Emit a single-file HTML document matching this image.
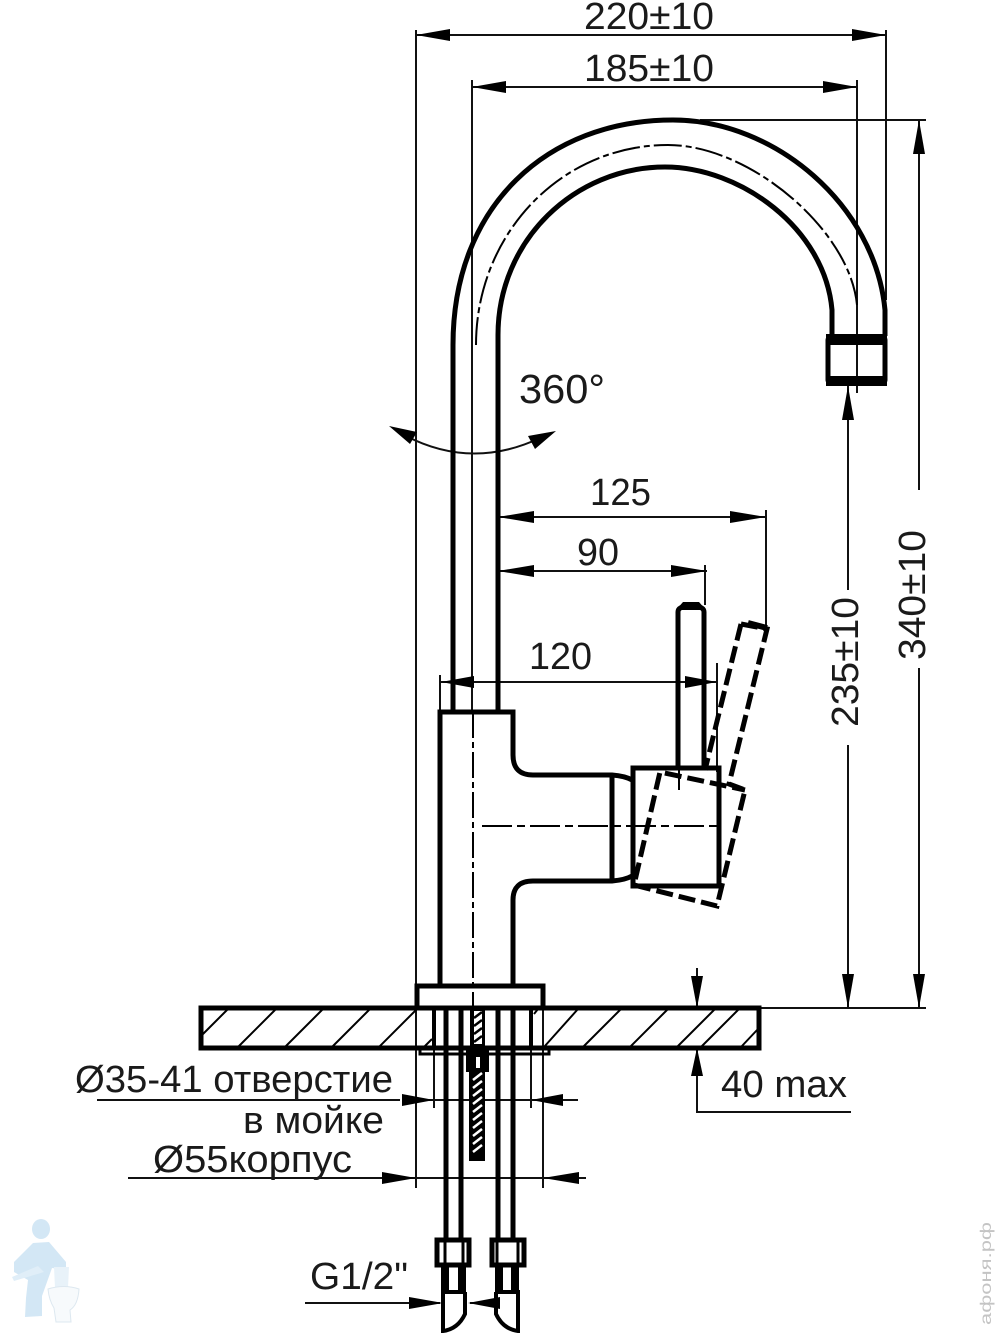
<!DOCTYPE html>
<html><head><meta charset="utf-8"><style>
html,body{margin:0;padding:0;background:#fff}
svg{display:block}
text{font-family:"Liberation Sans","DejaVu Sans",sans-serif;fill:#1a1a1a;font-size:38px}
</style></head><body>
<svg width="1000" height="1333" viewBox="0 0 1000 1333" xmlns="http://www.w3.org/2000/svg">
<rect width="1000" height="1333" fill="#fff"/>

<!-- logo -->
<g fill="#d3e7f5">
<ellipse cx="41" cy="1229" rx="9" ry="10"/>
<path d="M33 1243 L49 1242 L66 1262 L66 1270 L52 1268 L47 1282 L42 1296 L42 1316 L25 1317 L26 1298 L28 1280 L14 1272 L14 1262Z"/>
<path d="M12 1277 L38 1266 L44 1272 L14 1281Z" fill="#e0eef8"/>
<path d="M54 1267 L69 1267 L68 1288 L55 1288Z" fill="#e8f2f9"/>
</g>
<path d="M48 1289 Q64 1284 79 1289 Q78 1305 70 1310 L71 1322 L56 1322 L54 1308 Q49 1300 48 1289Z" fill="#f7fafc" stroke="#dde8f0" stroke-width="1"/>

<!-- watermark -->
<text transform="translate(991,1325) rotate(-90)" style="font-size:16px;fill:#c4c4c4" textLength="103" lengthAdjust="spacingAndGlyphs">афоня.рф</text>

<!-- thin lines -->
<g stroke="#111" stroke-width="2" fill="none">
<path d="M416 30V1188"/>
<path d="M886 30V300"/>
<path d="M472 80V712"/>
<path d="M857 80V393"/>
<path d="M416 35H886"/>
<path d="M472 87H857"/>
<path d="M700 120H926"/>
<path d="M919 120V490M919 668V1008"/>
<path d="M848 385V590M848 745V1008"/>
<path d="M760 1008H926"/>
<path d="M498 517H766M766 510V625"/>
<path d="M498 571H707M705 565V605"/>
<path d="M440 682H717M440 675V712M717 663V772"/>
<path d="M417 1100H578" />
<path d="M97 1100H400"/>
<path d="M128 1178H415"/>
<path d="M416 1178H586"/>
<path d="M305 1303H440"/>
<path d="M470 1303H500"/>
<path d="M697 968V1008M697 1048V1112H851"/>
<path d="M434 1048V1108M531 1048V1108M543 1008V1188"/>
<path d="M406 436Q472 470 540 438"/>
</g>

<!-- arrowheads -->
<g fill="#000">
<path d="M416 35l34 -6v12z"/><path d="M886 35l-34 -6v12z"/>
<path d="M472 87l34 -6v12z"/><path d="M857 87l-34 -6v12z"/>
<path d="M919 120l-6 34h12z"/><path d="M919 1008l-6 -34h12z"/>
<path d="M848 386l-6 34h12z"/><path d="M848 1008l-6 -34h12z"/>
<path d="M498 517l36 -6v12z"/><path d="M766 517l-36 -6v12z"/>
<path d="M498 571l36 -6v12z"/><path d="M707 571l-36 -6v12z"/>
<path d="M441 682l33 -6v12z"/><path d="M717 682l-32 -6v12z"/>
<path d="M697 1008l-6 -32h12z"/><path d="M697 1048l-6 28h12z"/>
<path d="M434 1100l-32 -6v12z"/><path d="M531 1100l32 -6v12z"/>
<path d="M416 1178l-34 -6v12z"/><path d="M543 1178l36 -6v12z"/>
<path d="M443 1303l-34 -6v12z"/><path d="M468 1303l32 -6v12z"/>
<path d="M389 426l28 6l-7 12z"/><path d="M556 431l-28 5l7 13z"/>
</g>

<!-- spout -->
<g fill="none" stroke="#000" stroke-width="5">
<path d="M453 712V345C453 205 548 120 673 120C775 120 875 205 885 310V336"/>
<path d="M498 712V335C498 240 575 167 665 167C740 167 825 228 832 310V336"/>
<rect x="828" y="338" width="57" height="44" rx="2"/>
</g>
<path d="M826 334H887V345H826Z M826 376H887V386H826Z" fill="#000"/>
<path d="M476 345C476 235 560 145 668 145C750 145 850 230 857 305" fill="none" stroke="#000" stroke-width="2" stroke-dasharray="28 4 6 4"/>

<!-- body -->
<g fill="none" stroke="#000" stroke-width="5">
<path d="M440 986V712H513V755Q513 775 533 775H612Q625 776 632 780"/>
<path d="M513 986V900Q513 881 533 881H612Q625 880 632 876"/>
<path d="M612 775V881"/>
<rect x="633" y="768" width="86" height="118"/>
<path d="M678 768V612Q678 606 691 606Q704 606 704 612V768"/>
<rect x="417" y="986" width="126" height="22"/>
<rect x="201" y="1008" width="558" height="40"/>
</g>
<path d="M683 602h16l7 8h-30z" fill="#000"/>

<!-- lever dashed -->
<path d="M741 624L767 629L729 784L745 790L717 906L634 885L660 772L745 790M741 624L705 770" fill="none" stroke="#000" stroke-width="5" stroke-dasharray="17 6"/>
<path d="M748 623L767 628" stroke="#000" stroke-width="6"/>

<!-- centre lines -->
<g fill="none" stroke="#000" stroke-width="2">
<path d="M473 712V1008" stroke-dasharray="26 4 6 4"/>
<path d="M482 826H720" stroke-dasharray="30 5 8 5"/>
<path d="M679 768V790"/>
</g>

<!-- hatching -->
<g stroke="#000" stroke-width="2" fill="none">
<path d="M201 1036L228 1009M238 1047L276 1009M285 1047L323 1009M332 1047L370 1009M379 1047L417 1009M544 1047L578 1009M583 1047L621 1009M630 1047L668 1009M677 1047L715 1009M701 1047L739 1009M741 1047L758 1029M424 1047L432 1039M534 1014L538 1009"/>
</g>

<!-- pipes -->
<g fill="none" stroke="#000">
<path d="M434 1008V1048M531 1008V1048" stroke-width="4"/>
<path d="M446 1008V1238M461 1008V1238M498 1008V1238M513 1008V1238" stroke-width="5"/>
<path d="M420 1049H549V1054H420Z" stroke-width="3"/>
</g>

<!-- bolt -->
<rect x="470" y="1008" width="15" height="40" fill="#000"/>
<rect x="474" y="1011" width="8" height="33" fill="#fff"/>
<rect x="466" y="1050" width="23" height="22" fill="#000"/>
<rect x="476" y="1057" width="4" height="11" fill="#fff"/>
<rect x="469" y="1072" width="16" height="89" fill="#000"/>
<g stroke="#000" stroke-width="2.5">
<path d="M474 1018l8 -6M474 1026l8 -6M474 1034l8 -6M474 1042l8 -6"/>
</g>
<g stroke="#fff" stroke-width="2.5">
<path d="M473 1080l9 -7M473 1088l9 -7M473 1096l9 -7M473 1104l9 -7M473 1112l9 -7M473 1120l9 -7M473 1128l9 -7M473 1136l9 -7M473 1144l9 -7M473 1152l9 -7"/>
</g>

<!-- nuts and tips -->
<g fill="none" stroke="#000">
<rect x="437" y="1240" width="32" height="25" stroke-width="5"/>
<rect x="492" y="1240" width="32" height="25" stroke-width="5"/>
<path d="M445 1240V1265M463 1240V1265M497 1240V1265M518 1240V1265" stroke-width="3"/>
<path d="M445 1265V1292M462 1265V1292M499 1265V1292M515 1265V1292" stroke-width="8"/>
<path d="M442 1292H466" stroke-width="4"/>
<path d="M495 1292H519" stroke-width="4"/>
<path d="M443 1290V1331Q458 1329 465 1314V1292" stroke-width="4"/>
<path d="M518 1290V1331Q503 1329 496 1314V1292" stroke-width="4"/>
</g>

<!-- labels -->
<text x="584" y="29" textLength="130" lengthAdjust="spacingAndGlyphs">220±10</text>
<text x="584" y="81" textLength="130" lengthAdjust="spacingAndGlyphs">185±10</text>
<text x="519" y="403" style="font-size:41px" textLength="86" lengthAdjust="spacingAndGlyphs">360°</text>
<text x="590" y="505" textLength="61" lengthAdjust="spacingAndGlyphs">125</text>
<text x="577" y="565" textLength="42" lengthAdjust="spacingAndGlyphs">90</text>
<text x="529" y="669" textLength="63" lengthAdjust="spacingAndGlyphs">120</text>
<text transform="translate(925,660) rotate(-90)" textLength="130" lengthAdjust="spacingAndGlyphs">340±10</text>
<text transform="translate(858,727) rotate(-90)" textLength="130" lengthAdjust="spacingAndGlyphs">235±10</text>
<text x="75" y="1092" textLength="318" lengthAdjust="spacingAndGlyphs">Ø35-41 отверстие</text>
<text x="243" y="1133" textLength="141" lengthAdjust="spacingAndGlyphs">в мойке</text>
<text x="153" y="1172" textLength="199" lengthAdjust="spacingAndGlyphs">Ø55корпус</text>
<text x="310" y="1289" textLength="98" lengthAdjust="spacingAndGlyphs">G1/2"</text>
<text x="721" y="1097" textLength="126" lengthAdjust="spacingAndGlyphs">40 max</text>
</svg>
</body></html>
